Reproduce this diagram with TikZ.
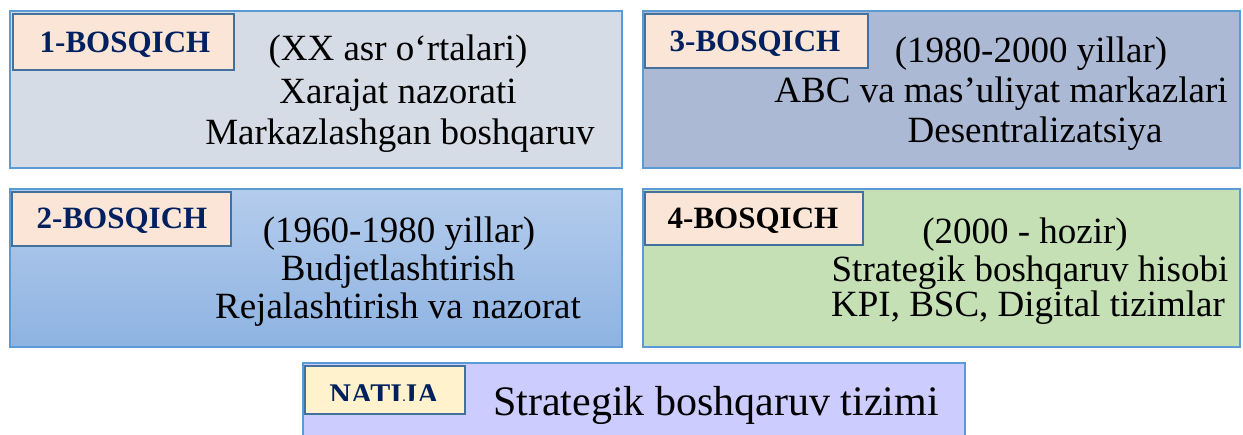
\documentclass[tikz,border=0pt]{standalone}
\usepackage{fontspec}
\setmainfont{Liberation Serif}
\newfontfamily\bodyfont{Liberation Serif}
\definecolor{panelborder}{HTML}{5B9BD5}
\definecolor{tagborder}{HTML}{41719C}
\definecolor{tagfill}{HTML}{FBE5D6}
\definecolor{tagfillY}{HTML}{FFF2CC}
\definecolor{navy}{HTML}{002060}
\definecolor{fillA}{HTML}{D6DCE5}
\definecolor{fillB}{HTML}{ACB9D5}
\definecolor{fillCtop}{HTML}{B4CCEC}
\definecolor{fillCbot}{HTML}{8EB3E2}
\definecolor{fillD}{HTML}{C5E0B4}
\definecolor{fillE}{HTML}{CCCCFF}
\begin{document}
\begin{tikzpicture}[x=1pt,y=-1pt,
  panel/.style={draw=panelborder, line width=1.5pt, anchor=north west, inner sep=0pt, outer sep=0pt},
  tagbox/.style={draw=tagborder, line width=2pt, fill=tagfill, anchor=north west, inner sep=0pt, outer sep=0pt},
  lbl/.style={font=\fontsize{31}{31}\selectfont\bfseries, text=navy, anchor=base, inner sep=0pt},
  body/.style={font=\bodyfont\fontsize{37}{37}\selectfont, anchor=base, inner sep=0pt}]
\useasboundingbox (0,0) rectangle (1243,435);
\fill[white] (0,0) rectangle (1243,435);
% panels
\node[panel, fill=fillA, minimum width=612pt, minimum height=157pt] (p1) at (10,11) {};
\node[panel, fill=fillB, minimum width=597pt, minimum height=157pt] (p3) at (643,11) {};
\node[panel, top color=fillCtop, bottom color=fillCbot, minimum width=612pt, minimum height=158pt] (p2) at (10,189) {};
\node[panel, fill=fillD, minimum width=597pt, minimum height=158pt] (p4) at (643,189) {};
\node[panel, fill=fillE, minimum width=662pt, minimum height=90pt] (p5) at (303,363) {};
% tags
\node[tagbox, minimum width=221pt, minimum height=56pt] (t1) at (13,14) {};
\node[tagbox, minimum width=223pt, minimum height=54pt] (t3) at (645,14) {};
\node[tagbox, minimum width=219pt, minimum height=54pt] (t2) at (12,192) {};
\node[tagbox, minimum width=218pt, minimum height=53pt] (t4) at (645,192) {};
\node[tagbox, fill=tagfillY, minimum width=160pt, minimum height=48pt] (t5) at (305,366) {};
% labels
\node[lbl] (l1) at (125,53) {1-BOSQICH};
\node[lbl] (l3) at (755,52) {3-BOSQICH};
\node[lbl] (l2) at (122,229) {2-BOSQICH};
\node[lbl, text=black] (l4) at (753,229) {4-BOSQICH};
\begin{scope}
\clip (305,366) rectangle (465,401);
\node[lbl, font=\fontsize{30}{30}\selectfont\bfseries] (l5) at (384,405) {NATIJA};
\end{scope}
% body texts
\node[body] (a1) at (398,61) {(XX asr o‘rtalari)};
\node[body] (a2) at (398,104) {Xarajat nazorati};
\node[body] (a3) at (400,145) {Markazlashgan boshqaruv};
\node[body] (c1) at (1031,63) {(1980-2000 yillar)};
\node[body] (c2) at (1001,103) {ABC va mas’uliyat markazlari};
\node[body] (c3) at (1035,143) {Desentralizatsiya};
\node[body] (b1) at (399,243) {(1960-1980 yillar)};
\node[body] (b2) at (398,281) {Budjetlashtirish};
\node[body] (b3) at (398,319) {Rejalashtirish va nazorat};
\node[body] (d1) at (1025,244) {(2000 - hozir)};
\node[body] (d2) at (1030,282) {Strategik boshqaruv hisobi};
\node[body] (d3) at (1028,317) {KPI, BSC, Digital tizimlar};
\node[body, font=\bodyfont\fontsize{42}{42}\selectfont] (e1) at (716,416) {Strategik boshqaruv tizimi};
\end{tikzpicture}
\end{document}
